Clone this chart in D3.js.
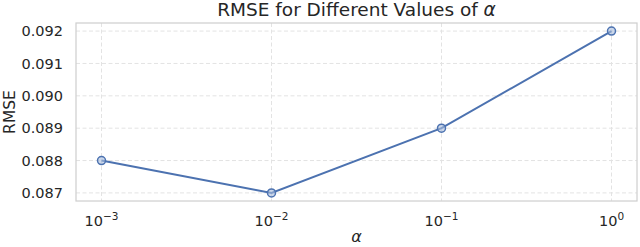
<!DOCTYPE html>
<html><head><meta charset="utf-8">
<script src="https://cdn.jsdelivr.net/npm/d3@7"></script>
<style>body{margin:0;background:#fff}svg{display:block}text{font-family:"DejaVu Sans",sans-serif;fill:#262626}</style>
</head><body><svg id="c" width="640" height="247"></svg>
<script>
const alphas = [0.001, 0.01, 0.1, 1];
const rmse = [0.088, 0.087, 0.089, 0.092];
const xTickExps = [-3, -2, -1, 0];
const yTicks = [0.087, 0.088, 0.089, 0.090, 0.091, 0.092];

const svg = d3.select("#c");
const m = {l:76, r:637, t:23, b:201};
const x = d3.scaleLog().domain([Math.pow(10,-3.15), Math.pow(10,0.15)]).range([m.l, m.r]);
const y = d3.scaleLinear().domain([0.08675, 0.09225]).range([m.b, m.t]);

// grid
const g = svg.append("g");
g.selectAll(".gx").data(xTickExps).enter().append("line")
 .attr("x1",d=>x(Math.pow(10,d))).attr("x2",d=>x(Math.pow(10,d)))
 .attr("y1",m.t).attr("y2",m.b).attr("stroke","#e3e3e3").attr("stroke-width",1).attr("stroke-dasharray","4,2.5");
g.selectAll(".gy").data(yTicks).enter().append("line")
 .attr("y1",d=>y(d)).attr("y2",d=>y(d))
 .attr("x1",m.l).attr("x2",m.r).attr("stroke","#e3e3e3").attr("stroke-width",1).attr("stroke-dasharray","4,2.5");

// frame
svg.append("rect").attr("x",m.l).attr("y",m.t).attr("width",m.r-m.l).attr("height",m.b-m.t)
 .attr("fill","none").attr("stroke","#d0d0d0").attr("stroke-width",1.25);

// y axis labels
const ya = d3.axisLeft(y).tickValues(yTicks).tickFormat(d3.format(".3f")).tickSize(0).tickPadding(13);
const yg = svg.append("g").attr("transform",`translate(${m.l},0)`).call(ya);
yg.select(".domain").remove();
yg.selectAll("text").style("font-size","14.5px").attr("fill","#262626").attr("font-family","DejaVu Sans");

// x axis labels
const xa = d3.axisBottom(x).tickValues(xTickExps.map(e=>Math.pow(10,e))).tickFormat("").tickSize(0);
const xg = svg.append("g").attr("transform",`translate(0,${m.b})`).call(xa);
xg.select(".domain").remove();
xTickExps.forEach(e=>{
  const t = svg.append("text").attr("x",x(Math.pow(10,e))).attr("y",226).attr("text-anchor","middle").style("font-size","14.5px");
  t.append("tspan").text("10");
  t.append("tspan").attr("dy",-6).style("font-size","10.5px").text(e===0?"0":"\u2212"+Math.abs(e));
});

// line
const color = "#4c72b0";
svg.append("path").datum(alphas.map((a,i)=>[a,rmse[i]]))
 .attr("d", d3.line().x(d=>x(d[0])).y(d=>y(d[1])))
 .attr("fill","none").attr("stroke",color).attr("stroke-width",2);
svg.selectAll(".pt").data(alphas.map((a,i)=>[a,rmse[i]])).enter().append("circle")
 .attr("cx",d=>x(d[0])).attr("cy",d=>y(d[1])).attr("r",4)
 .attr("fill","#a9bcdc").attr("fill-opacity",0.6).attr("stroke",color).attr("stroke-width",1.5);

// title
const tt = svg.append("text").attr("x",(m.l+m.r)/2).attr("y",16).attr("text-anchor","middle").style("font-size","18.5px");
tt.append("tspan").text("RMSE for Different Values of ");
tt.append("tspan").style("font-style","italic").text("\u03b1");

// labels
svg.append("text").attr("transform",`translate(15,${(m.t+m.b)/2}) rotate(-90)`).attr("text-anchor","middle").style("font-size","15.5px").text("RMSE");
svg.append("text").attr("x",(m.l+m.r)/2).attr("y",242).attr("text-anchor","middle").style("font-size","16px").style("font-style","italic").text("\u03b1");
</script></body></html>
